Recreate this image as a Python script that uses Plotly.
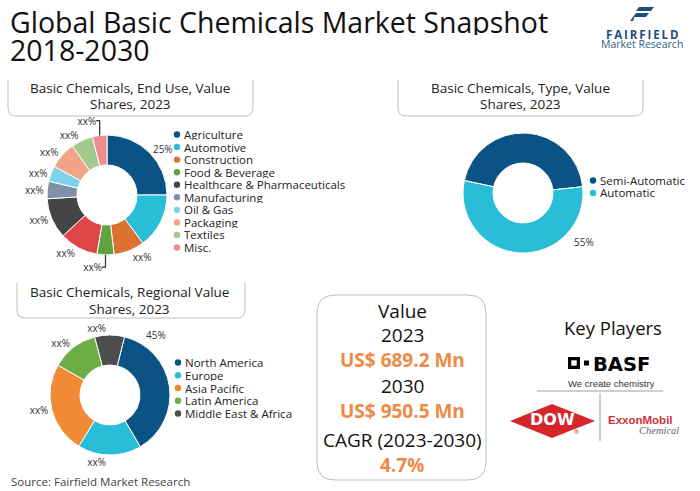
import plotly.graph_objects as go

W, H = 700, 491
FONT = "Open Sans"

# ---------------- data ----------------
end_use_labels = ["Agriculture", "Automotive", "Construction", "Food & Beverage", "Others",
                  "Healthcare & Pharmaceuticals", "Manufacturing", "Oil & Gas", "Packaging",
                  "Textiles", "Misc."]
end_use_values = [25, 14.8, 8.3, 4.6, 10.4, 10.9, 4.7, 4.2, 7.3, 5.9, 3.9]
end_use_text = ["25%", "", "xx%", "xx%", "xx%", "xx%", "xx%", "xx%", "xx%", "xx%", "xx%"]
end_use_colors = ["#0B5384", "#29BED8", "#DD7230", "#5FA33E", "#E04648", "#454545",
                  "#7F90A8", "#7ED3EA", "#F2A488", "#A3C98F", "#F08C90"]
end_use_legend = ["Agriculture", "Automotive", "Construction", "Food & Beverage",
                  "Healthcare & Pharmaceuticals", "Manufacturing", "Oil & Gas",
                  "Packaging", "Textiles", "Misc."]

type_labels = ["Semi-Automatic", "Automatic"]
type_values = [45, 55]
type_colors = ["#0B5384", "#29BED8"]
type_share_label = "55%"

region_labels = ["North America", "Europe", "Asia Pacific", "Latin America", "Middle East & Africa"]
region_values = [37.7, 17.1, 24.6, 12.6, 8.0]
region_text = ["", "xx%", "xx%", "xx%", "xx%"]
region_colors = ["#0B5384", "#29BED8", "#F08A35", "#6DAD45", "#4D4D4D"]
region_share_label = "45%"

value_lines = ["Value", "2023", "US$ 689.2 Mn", "2030", "US$ 950.5 Mn", "CAGR (2023-2030)", "4.7%"]

# ---------------- helpers ----------------
def X(px):
    return px / W

def Y(py):
    return 1 - py / H

def P(x, y):
    return f"{X(x):.5f},{Y(y):.5f}"

annotations = []
shapes = []

def ann(text, x, y, size, color="#1a1a1a", xanchor="center", yanchor="middle",
        family=FONT, height=None):
    d = dict(text=text, x=X(x), y=Y(y), xref="paper", yref="paper",
             xanchor=xanchor, yanchor=yanchor, showarrow=False,
             font=dict(size=size, color=color, family=family))
    if height is not None:
        d["height"] = height
    annotations.append(d)

def open_box(l, r, t, b, rad=8, color="#BDBDBD"):
    path = (f"M {P(l, t)} L {P(l, b - rad)} Q {P(l, b)} {P(l + rad, b)} "
            f"L {P(r - rad, b)} Q {P(r, b)} {P(r, b - rad)} L {P(r, t)}")
    shapes.append(dict(type="path", path=path, xref="paper", yref="paper",
                       line=dict(color=color, width=1)))

def round_box(l, r, t, b, rad=18, color="#BDBDBD"):
    path = (f"M {P(l + rad, t)} L {P(r - rad, t)} Q {P(r, t)} {P(r, t + rad)} "
            f"L {P(r, b - rad)} Q {P(r, b)} {P(r - rad, b)} L {P(l + rad, b)} "
            f"Q {P(l, b)} {P(l, b - rad)} L {P(l, t + rad)} Q {P(l, t)} {P(l + rad, t)} Z")
    shapes.append(dict(type="path", path=path, xref="paper", yref="paper",
                       line=dict(color=color, width=1)))

def rect(x0, y0, x1, y1, fill):
    shapes.append(dict(type="rect", x0=X(x0), x1=X(x1), y0=Y(y1), y1=Y(y0),
                       xref="paper", yref="paper", fillcolor=fill,
                       line=dict(width=0)))

def poly(pts, fill):
    path = "M " + " L ".join(P(x, y) for x, y in pts) + " Z"
    shapes.append(dict(type="path", path=path, xref="paper", yref="paper",
                       fillcolor=fill, line=dict(width=0)))

def line(x0, y0, x1, y1, color="#9E9E9E", width=1):
    shapes.append(dict(type="line", x0=X(x0), y0=Y(y0), x1=X(x1), y1=Y(y1),
                       xref="paper", yref="paper", line=dict(color=color, width=width)))

def dot(cx, cy, color, r=3.2):
    shapes.append(dict(type="circle", x0=X(cx - r), x1=X(cx + r), y0=Y(cy + r), y1=Y(cy - r),
                       xref="paper", yref="paper", fillcolor=color, line=dict(width=0)))

def legend(labels, colors, x, y0, step):
    for i, (lab, col) in enumerate(zip(labels, colors)):
        yy = y0 + i * step
        dot(x, yy + 0.5, col)
        ann(lab, x + 4.5, yy, 11.5, "#222222", xanchor="left", height=12)

# ---------------- figure ----------------
fig = go.Figure()

pie_common = dict(hole=0.5, sort=False, direction="clockwise", textinfo="text",
                  textposition="outside", showlegend=False, hoverinfo="label+percent",
                  outsidetextfont=dict(size=10, color="#333333", family=FONT))

fig.add_trace(go.Pie(labels=end_use_labels, values=end_use_values, text=end_use_text,
                     rotation=0, marker=dict(colors=end_use_colors, line=dict(color="white", width=1)),
                     domain=dict(x=[X(47), X(167)], y=[Y(255), Y(135)]), **pie_common))

fig.add_trace(go.Pie(labels=type_labels, values=type_values, text=["", ""],
                     rotation=-78, marker=dict(colors=type_colors, line=dict(color="white", width=1)),
                     domain=dict(x=[X(463), X(583)], y=[Y(253), Y(133)]), **pie_common))

fig.add_trace(go.Pie(labels=region_labels, values=region_values, text=region_text,
                     rotation=14, marker=dict(colors=region_colors, line=dict(color="white", width=1)),
                     domain=dict(x=[X(50), X(170)], y=[Y(455), Y(335)]), **pie_common))

# title
ann("Global Basic Chemicals Market Snapshot", 8, 21, 28.5, "#111111", xanchor="left", height=27)
ann("2018-2030", 8, 49, 28.5, "#111111", xanchor="left", height=27)

# fairfield logo
poly([(639, 7), (654, 7), (651, 11), (636, 11)], "#1F4E79")
poly([(636, 13), (649, 13), (646, 17), (634.5, 17), (633, 21), (630, 21)], "#1F4E79")
ann("<b>F\u2009A\u2009I\u2009R\u2009F\u2009I\u2009E\u2009L\u2009D</b>", 642, 34.5, 11.5, "#1F4E79", height=9)
ann("Market Research", 642, 44, 10.5, "#2E5F8A", height=9)

# subtitle boxes
open_box(8, 253, 80, 116)
ann("Basic Chemicals, End Use, Value", 130, 88, 13.5, "#222222", height=16)
ann("Shares, 2023", 130, 104, 13.5, "#222222", height=16)

open_box(398, 643, 80, 116)
ann("Basic Chemicals, Type, Value", 520, 88, 13.5, "#222222", height=16)
ann("Shares, 2023", 520, 104, 13.5, "#222222", height=16)

open_box(17, 245, 283, 318)
ann("Basic Chemicals, Regional Value", 129, 292, 13.5, "#222222", height=16)
ann("Shares, 2023", 129, 309, 13.5, "#222222", height=16)

# legends
legend(end_use_legend, [c for lab, c in zip(end_use_labels, end_use_colors) if lab in end_use_legend],
       177, 134, 12.56)
legend(type_labels, type_colors, 593, 180, 12.5)
legend(region_labels, region_colors, 178, 362, 12.75)

# displaced share labels
ann(type_share_label, 584, 242, 10, "#333333")
ann(region_share_label, 156, 335, 10, "#333333")

# value box
round_box(317, 486, 295, 480)
ys = [310, 334, 359, 385, 410, 439, 464]
for txt, yy in zip(value_lines, ys):
    if txt.startswith("US$") or txt.endswith("%"):
        ann(f"<b>{txt}</b>", 402, yy, 19, "#EE8A45", height=23)
    else:
        ann(txt, 402, yy, 19, "#111111", height=23)

# key players
ann("Key Players", 613, 327, 18.5, "#111111")
# BASF
rect(568, 357, 580, 369, "#000000")
rect(571.3, 360.3, 576.7, 365.7, "#FFFFFF")
rect(584, 360.5, 589, 365.5, "#000000")
ann("<b>BASF</b>", 591, 363.5, 19.5, "#000000", xanchor="left", family="DejaVu Sans", height=16)
ann("We create chemistry", 611.5, 383, 9.5, "#333333", family="Liberation Sans", height=11)
line(537, 391, 663, 391)
line(600, 393, 600, 441)
# DOW
poly([(510, 421), (552, 404), (595, 421), (552, 438)], "#D7262B")
ann("<b>DOW</b>", 552, 419, 16, "#FFFFFF", family="DejaVu Sans", height=16)
ann("®", 576, 432, 6, "#D7262B", height=6)
# ExxonMobil
ann("<b>ExxonMobil</b>", 606, 420, 11.5, "#D0313B", xanchor="left", family="Liberation Sans", height=10)
ann("<i>Chemical</i>", 681, 430, 10.5, "#666666", xanchor="right", family="Liberation Serif", height=10)

# source
ann("Source: Fairfield Market Research", 9, 481, 11.5, "#444444", xanchor="left", height=14)

fig.update_layout(width=W, height=H, margin=dict(l=0, r=0, t=0, b=0),
                  paper_bgcolor="white", plot_bgcolor="white",
                  annotations=annotations, shapes=shapes,
                  font=dict(family=FONT))

fig.write_html("out.html", config={"displayModeBar": False},
               post_script="document.body.style.margin='0';document.body.style.padding='0';")
